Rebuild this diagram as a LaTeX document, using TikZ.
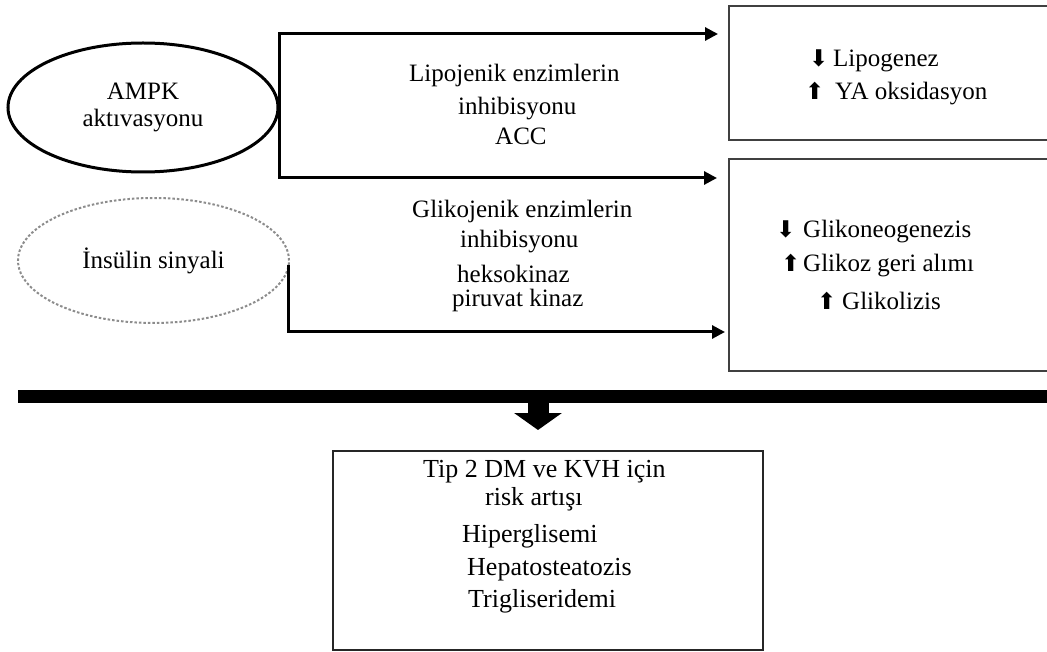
\documentclass[tikz,border=0pt]{standalone}
\usepackage{fontspec}
\setmainfont{Liberation Serif}
\newfontfamily\flechas{DejaVu Sans}
\usetikzlibrary{arrows.meta,shapes.geometric}

\begin{document}
\begin{tikzpicture}[x=1pt,y=-1pt,
  elipse/.style={ellipse, inner sep=0pt, align=center, font=\fontsize{25}{27}\selectfont},
  caja/.style={rectangle, draw=black!75, line width=2.6pt, inner sep=0pt},
  texto/.style={inner sep=0pt, anchor=base west, font=\fontsize{25}{30}\selectfont},
  textob/.style={inner sep=0pt, anchor=base west, font=\fontsize{26}{30}\selectfont},
  conector/.style={line width=3pt, -{Triangle[length=13pt,width=13pt]}},
  barra/.style={line width=13pt},
  flechagorda/.style={line width=21pt, -{Triangle[length=17pt,width=47pt]}}]
\newcommand{\abajo}[1]{\makebox[#1][l]{\flechas\fontsize{23}{23}\selectfont ⬇}}
\newcommand{\arriba}[1]{\makebox[#1][l]{\flechas\fontsize{23}{23}\selectfont ⬆}}
\useasboundingbox (0,0) rectangle (1047,652);

% Las dos elipses de la izquierda
\node[elipse, draw, line width=3pt, minimum width=270pt, minimum height=129pt]
  (ampk) at (143,107.5) {AMPK\\akt\i vasyonu};
\node[elipse, draw=black!45, line width=2pt, dash pattern=on 2.5pt off 2pt,
  minimum width=271pt, minimum height=125pt] (insulin) at (153.5,260.5) {İnsülin sinyali};

% Cajas de resultados
\node[caja, minimum width=330pt, minimum height=134pt] (lipo) at (894,73) {};
\node[caja, minimum width=330pt, minimum height=212pt] (gluco) at (894,265) {};
\node[caja, draw=black!85, minimum width=430pt, minimum height=199pt] (riesgo) at (548,550.5) {};

% Puntas de las flechas
\coordinate (p1) at (718,34);
\coordinate (p2) at (717,178);
\coordinate (p3) at (725,332);

% Conectores
\draw[conector] (ampk.east) -- (ampk.east |- p1) -- (p1);
\draw[conector] (ampk.east) -- (ampk.east |- p2) -- (p2);
\draw[conector] ([shift={(-2,5)}]insulin.east) -- ([xshift=-2pt]insulin.east |- p3) -- (p3);

% Textos del medio
\node[texto] (t1) at (409,82) {Lipojenik enzimlerin};
\node[texto] (t2) at (458,115) {inhibisyonu};
\node[texto] (t3) at (495,145) {ACC};
\node[texto] (t4) at (412,218) {Glikojenik enzimlerin};
\node[texto] (t5) at (460,248) {inhibisyonu};
\node[texto] (t6) at (457,283) {heksokinaz};
\node[texto] (t7) at (452,307) {piruvat kinaz};

% Textos de las cajas
\node[texto] (l1) at (809,67) {\abajo{24pt}Lipogenez};
\node[texto] (l2) at (805,100) {\arriba{30pt}YA oksidasyon};
\node[texto] (g1) at (776,238) {\abajo{27pt}Glikoneogenezis};
\node[texto] (g2) at (781,272) {\arriba{22pt}Glikoz geri alımı};
\node[texto] (g3) at (817,310) {\arriba{25pt}Glikolizis};

% Barra y flecha gorda
\coordinate (b1) at (18,396.5);
\coordinate (b2) at (1060,396.5);
\coordinate (abajo) at (538,430);
\draw[barra] (b1) -- (b2);
\draw[flechagorda] (b1 -| abajo) -- (abajo);

% Riesgos
\node[textob] (r1) at (423,477) {Tip 2 DM ve KVH için};
\node[textob] (r2) at (485,505) {risk artışı};
\node[textob] (r3) at (462,542) {Hiperglisemi};
\node[textob] (r4) at (467,575) {Hepatosteatozis};
\node[textob] (r5) at (468,607) {Trigliseridemi};
\end{tikzpicture}
\end{document}
